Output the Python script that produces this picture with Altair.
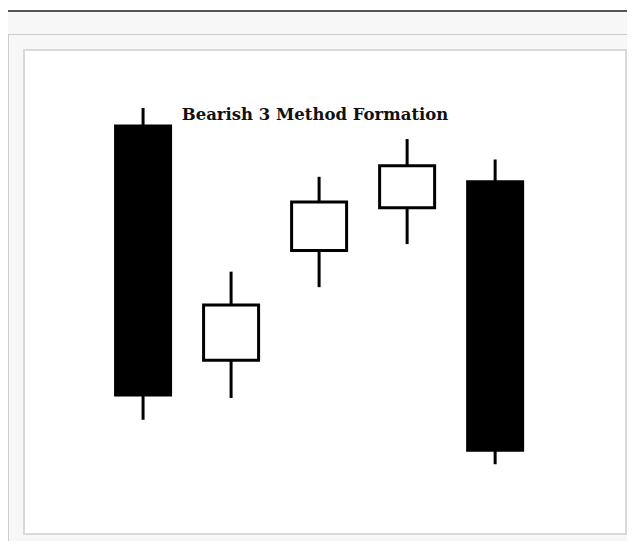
import altair as alt
import pandas as pd

# Candlestick values (price units)
days = [1, 2, 3, 4, 5]
opens = [84.3, 35.9, 58.6, 67.4, 72.8]
closes = [28.7, 47.3, 68.6, 76.1, 17.3]
highs = [88.0, 54.2, 73.8, 81.6, 77.4]
lows = [23.6, 28.1, 51.0, 59.9, 14.4]
title_text = ["Bearish 3 Method Formation"]

df = pd.DataFrame({"day": days, "open": opens, "close": closes, "high": highs, "low": lows})
df["fill"] = ["black" if o > c else "white" for o, c in zip(opens, closes)]

xs = alt.Scale(domain=[-0.296, 6.430], nice=False, zero=False)
ys = alt.Scale(domain=[0, 100], nice=False, zero=False)

wicks = alt.Chart(df).mark_rule(color="black", strokeWidth=3).encode(
    x=alt.X("day:Q", scale=xs, axis=None),
    y=alt.Y("low:Q", scale=ys, axis=None),
    y2="high:Q",
)

bodies = alt.Chart(df).mark_bar(size=55, stroke="black", strokeWidth=3).encode(
    x=alt.X("day:Q", scale=xs, axis=None),
    y=alt.Y("open:Q", scale=ys, axis=None),
    y2="close:Q",
    fill=alt.Fill("fill:N", scale=None),
)

title = alt.Chart(pd.DataFrame({"t": title_text})).mark_text(
    font="DejaVu Serif", fontWeight="bold", fontSize=16.5, align="center",
    baseline="alphabetic", color="#111111",
).encode(text="t:N", x=alt.value(291), y=alt.value(70))

one = pd.DataFrame({"a": [0]})
# page decoration: white strip + dark rule at top, outer light frame
top_white = alt.Chart(one).mark_rect(color="white").encode(
    x=alt.value(-16), x2=alt.value(604), y=alt.value(-42), y2=alt.value(-40))
top_line = alt.Chart(one).mark_rule(color="#555555", strokeWidth=2).encode(
    x=alt.value(-16), x2=alt.value(604), y=alt.value(-39))
frame_top = alt.Chart(one).mark_rule(color="#cccccc", strokeWidth=1).encode(
    x=alt.value(-16), x2=alt.value(604), y=alt.value(-15.5))
frame_left = alt.Chart(one).mark_rule(color="#cccccc", strokeWidth=1).encode(
    x=alt.value(-15.5), y=alt.value(-16), y2=alt.value(492))

chart = alt.layer(
    top_white, top_line, frame_top, frame_left, wicks, bodies, title
).properties(
    width=602, height=484,
    padding={"left": 16, "top": 42, "right": 1, "bottom": 7},
    autosize=alt.AutoSizeParams(type="none"),
    background="#f7f7f7",
).configure_view(fill="white", stroke="#d9d9d9", strokeWidth=2)

chart.save("out.html", embed_options={"renderer": "svg", "actions": False})
